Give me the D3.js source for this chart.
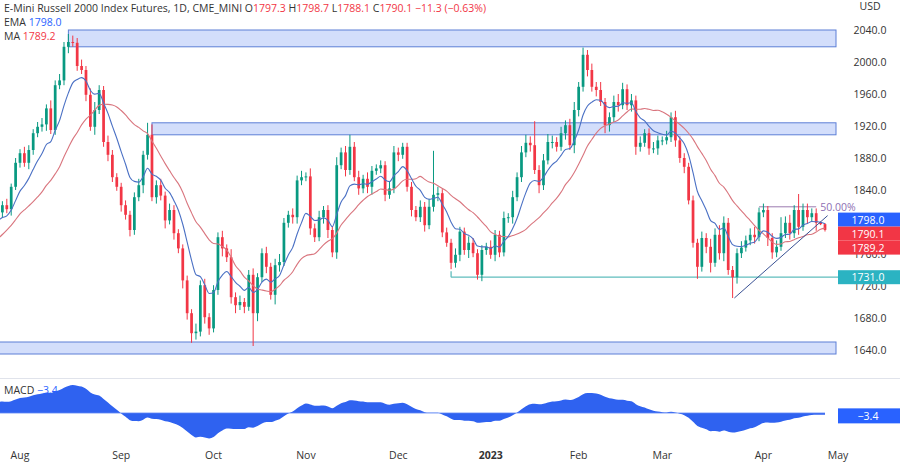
<!DOCTYPE html>
<html><head><meta charset="utf-8">
<script src="https://cdn.jsdelivr.net/npm/d3@7/dist/d3.min.js"></script>
<style>body{margin:0;background:#fff;font-family:"Open Sans",Roboto,sans-serif}</style>
</head><body><svg id="c" width="900" height="463"></svg>
<script>
// ---- data ----
const startDate = "2022-07-25";
const holidays = ["2022-09-05","2022-11-24","2022-12-26","2023-01-02","2023-01-16","2023-02-20","2023-04-07"];
const warmupCloses = [1690,1700,1735,1745,1760,1745,1720,1705,1725,1735,1740,1775,1790,1805,1800,1795,1780,1790,1810,1795,1770,1800,1810,1830,1800];
const closes = [1812,1821,1816,1844,1874,1886,1874,1890,1911,1919,
1922,1942,1915,1971,1977,2019,2025,2024,1995,1990,
1959,1919,1940,1965,1900,1884,1856,1844,1821,1809,
1790,1831,1846,1884,1909,1831,1846,1833,1802,1815,
1786,1767,1727,1686,1661,1663,1721,1681,1667,1715,
1781,1767,1756,1706,1696,1700,1694,1734,1686,1731,
1761,1744,1709,1746,1750,1799,1809,1806,1852,1856,
1857,1792,1781,1806,1815,1790,1762,1871,1887,1865,
1894,1856,1842,1854,1844,1864,1867,1871,1834,1842,
1887,1884,1894,1844,1815,1806,1819,1796,1819,1834,
1836,1787,1774,1749,1759,1788,1765,1774,1761,1734,
1765,1769,1759,1784,1762,1805,1806,1831,1856,1887,
1899,1896,1865,1846,1877,1900,1900,1894,1911,1921,
1896,1940,1969,2009,1990,1969,1965,1950,1921,1931,
1950,1946,1966,1946,1952,1894,1899,1911,1892,1892,
1902,1902,1906,1931,1902,1880,1869,1827,1774,1744,
1780,1769,1749,1784,1761,1799,1740,1731,1761,1768,
1777,1784,1781,1812,1815,1780,1762,1769,1786,1799,
1786,1815,1794,1815,1806,1811,1799,1797.3,1790.1];
const wickUp = [6,5,8,4,6,5,8,6,5,6, 8,5,10,6,8,6,10,8,6,8, 5,8,10,6,5,8,6,5,5,6, 5,6,8,5,15,13,6,8,5,8,
6,5,5,6,5,10,6,8,5,6, 6,8,5,10,6,8,5,6,8,5, 6,8,5,8,10,6,5,8,6,8, 5,10,6,8,5,6,5,10,6,8,
15,6,8,5,8,6,5,6,5,8, 8,6,5,5,6,5,8,6,10,55, 8,5,6,5,8,6,5,8,6,5, 6,5,8,6,5,8,5,8,6,8,
10,8,30,6,8,10,8,6,8,6, 8,10,6,9,6,8,6,10,5,6, 8,10,8,6,8,6,8,5,6,8, 6,5,8,6,8,5,6,5,6,5,
8,6,10,8,12,8,6,5,6,8, 6,8,10,6,8,5,6,8,20,8, 10,6,20,8,8,6,6,1.4,1.4];
const wickDown = [5,6,5,8,4,6,5,8,6,5, 6,8,5,6,5,6,8,5,6,5, 8,5,10,5,6,8,6,5,8,6, 8,6,5,10,6,5,8,6,10,5,
8,6,10,8,12,8,6,8,8,5, 6,10,6,8,10,6,8,5,41,10, 6,8,6,12,8,5,6,8,8,6, 5,8,6,5,8,10,6,8,5,8,
6,5,8,6,8,10,5,6,8,5, 6,8,5,6,8,5,6,8,5,6, 8,6,5,8,6,8,6,10,5,6, 8,6,5,8,6,5,6,8,5,6,
6,8,5,10,6,5,8,6,5,8, 6,10,8,6,8,6,8,5,10,8, 6,8,5,6,8,10,6,5,8,6, 8,6,5,6,8,6,8,5,6,15,
6,8,12,5,8,10,6,26,8,6, 5,6,8,5,6,10,8,6,5,6, 8,6,10,5,8,6,10,1.2,2];
const lastOpen = 1797.3;
const priceTicks = [1640,1680,1720,1760,1800,1840,1880,1920,1960,2000,2040];
const zones = [[2019,2040,16],[1909,1924,35],[1635,1650,-5]]; // [low, high, start index]
const supportLevel = 1731.0, supportStart = 103;
const rangeTop = 1819, rangeStart = 173, rangeEnd = 186;
const trendLine = [[167.4,1705],[188.6,1808]];
const lastTags = [["1798.0","#2962ff"],["1790.1","#f23645"],["1789.2","#f23645"]];
const monthNames = ["Jan","Feb","Mar","Apr","May","Jun","Jul","Aug","Sep","Oct","Nov","Dec"];

// ---- dates ----
const fmt = d3.timeFormat("%Y-%m-%d");
const dates = [];
for (let d = new Date(startDate+"T12:00:00"); dates.length < 200; d = d3.timeDay.offset(d,1)) {
  const wd = d.getDay(); if (wd===0||wd===6||holidays.includes(fmt(d))) continue; dates.push(new Date(d));
}
// ---- indicators ----
const all = warmupCloses.concat(closes), W = warmupCloses.length;
function ema(arr,n){const k=2/(n+1);let e=arr[0];return arr.map(v=>e=v*k+e*(1-k));}
const ema9 = ema(all,9).slice(W);
const ma20 = all.map((v,i)=>d3.mean(all.slice(Math.max(0,i-19),i+1))).slice(W);
const e12=ema(all,12), e26=ema(all,26);
const macd = all.map((v,i)=>e12[i]-e26[i]).slice(W);

// ---- scales ----
const svg = d3.select("#c");
const x = d3.scaleLinear().domain([5,188]).range([20,825]);
const y = d3.scaleLinear().domain([1640,2040]).range([350,30]);
const plotR = 838;
const mMax = d3.max(macd,Math.abs);
const ym = d3.scaleLinear().domain([-mMax,mMax]).range([441,385]);

const defs = svg.append("defs");
defs.append("clipPath").attr("id","cp").append("rect").attr("x",0).attr("y",0).attr("width",plotR).attr("height",378);
defs.append("clipPath").attr("id","cm").append("rect").attr("x",0).attr("y",379).attr("width",plotR).attr("height",70);
const g = svg.append("g").attr("clip-path","url(#cp)");

zones.forEach(([lo,hi,s])=>{
  g.append("rect").attr("x",x(s)).attr("y",y(hi)).attr("width",836-x(s)).attr("height",y(lo)-y(hi))
   .attr("fill","#d3defb").attr("stroke","#5d7fd6").attr("stroke-width",1);
});
g.append("line").attr("x1",x(supportStart)).attr("x2",plotR).attr("y1",y(supportLevel)).attr("y2",y(supportLevel))
 .attr("stroke","#5fbdbd").attr("stroke-width",1.3);
g.append("line").attr("x1",x(supportStart)).attr("x2",x(supportStart)).attr("y1",y(supportLevel)).attr("y2",y(supportLevel)-6)
 .attr("stroke","#5fbdbd").attr("stroke-width",1.3);
g.append("line").attr("x1",x(rangeStart)).attr("x2",x(rangeEnd)).attr("y1",y(rangeTop)).attr("y2",y(rangeTop))
 .attr("stroke","#9c7bb0").attr("stroke-width",1);
svg.append("text").attr("x",x(rangeEnd)+4).attr("y",y(rangeTop)+4).text("50.00%").attr("font-size",10.5).attr("fill","#8e6fb3");

const step = x(1)-x(0), bw = step*0.62;
closes.forEach((c,i)=>{
  const o = i===closes.length-1 ? lastOpen : (i===0 ? closes[0]-8 : closes[i-1]);
  const hi = Math.max(o,c)+wickUp[i], lo = Math.min(o,c)-wickDown[i];
  const col = c>=o ? "#089981" : "#f23645";
  g.append("line").attr("x1",x(i)).attr("x2",x(i)).attr("y1",y(hi)).attr("y2",y(lo)).attr("stroke",col).attr("stroke-width",1);
  g.append("rect").attr("x",x(i)-bw/2).attr("y",y(Math.max(o,c))).attr("width",bw).attr("height",Math.max(1,Math.abs(y(o)-y(c)))).attr("fill",col);
});
const ln = d3.line().x((d,i)=>x(i)).y(d=>y(d)).curve(d3.curveMonotoneX);
g.append("path").attr("d",ln(ma20)).attr("fill","none").attr("stroke","#d9757e").attr("stroke-width",1.1);
g.append("path").attr("d",ln(ema9)).attr("fill","none").attr("stroke","#4a70c4").attr("stroke-width",1.1);
g.append("line").attr("x1",x(trendLine[0][0])).attr("y1",y(trendLine[0][1])).attr("x2",x(trendLine[1][0])).attr("y2",y(trendLine[1][1]))
 .attr("stroke","#3a5294").attr("stroke-width",1);

svg.append("g").selectAll("text").data(priceTicks).join("text").attr("x",870).attr("y",d=>y(d)+4)
  .attr("text-anchor","middle").attr("font-size",10.5).attr("fill","#333").text(d=>d.toFixed(1));
svg.append("text").attr("x",870).attr("y",10).attr("text-anchor","middle").attr("font-size",10.5).attr("fill","#333").text("USD");
function tag(yy,txt,bg,h=14){svg.append("rect").attr("x",838).attr("y",yy-h/2).attr("width",62).attr("height",h).attr("fill",bg);
 svg.append("text").attr("x",868).attr("y",yy+4).attr("text-anchor","middle").attr("font-size",10.5).attr("fill","#fff").text(txt);}
tag(y(supportLevel),supportLevel.toFixed(1),"#2bb3c2");
const y0tag = y(1803);
lastTags.forEach(([t,c],k)=>tag(y0tag+k*14,t,c));

svg.append("line").attr("x1",0).attr("x2",900).attr("y1",378.5).attr("y2",378.5).attr("stroke","#e0e3eb");
const area = d3.area().x((d,i)=>x(i)).y0(ym(0)).y1(d=>ym(d)).curve(d3.curveMonotoneX);
svg.append("path").attr("clip-path","url(#cm)").attr("d",area(macd)).attr("fill","#2f62f0");
svg.append("line").attr("x1",0).attr("x2",x(188)).attr("y1",ym(0)).attr("y2",ym(0)).attr("stroke","#5d86f5").attr("stroke-width",0.8);
const mLast = macd[macd.length-1];
tag(ym(mLast)+1,"−3.4","#2962ff",15);
const mt = svg.append("text").attr("x",4).attr("y",394).attr("font-size",10.5).attr("fill","#333");
mt.append("tspan").text("MACD  "); mt.append("tspan").attr("fill","#2962ff").text("−3.4");

const ticks = [];
dates.forEach((d,i)=>{ if(i>0 && d.getMonth()!==dates[i-1].getMonth() && i>=5) ticks.push([i,d]); });
svg.append("g").selectAll("text").data(ticks).join("text").attr("x",d=>Math.min(x(d[0]),838)).attr("y",459).attr("text-anchor","middle")
  .attr("font-size",10.5).attr("fill","#333").attr("font-weight",d=>d[1].getMonth()===0?"bold":"normal")
  .text(d=>d[1].getMonth()===0?d[1].getFullYear():monthNames[d[1].getMonth()]);

const h1 = svg.append("text").attr("x",4).attr("y",12).attr("font-size",10.5).attr("fill","#333");
h1.append("tspan").text("E-Mini Russell 2000 Index Futures, 1D, CME_MINI  ");
[["O","1797.3"],["H","1798.7"],["L","1788.1"],["C","1790.1"]].forEach(([k,v])=>{h1.append("tspan").text(k);h1.append("tspan").attr("fill","#f23645").text(v+"  ");});
h1.append("tspan").attr("fill","#f23645").text("−11.3 (−0.63%)");
const h2 = svg.append("text").attr("x",4).attr("y",26).attr("font-size",10.5).attr("fill","#333");
h2.append("tspan").text("EMA  "); h2.append("tspan").attr("fill","#2962ff").text("1798.0");
const h3 = svg.append("text").attr("x",4).attr("y",40).attr("font-size",10.5).attr("fill","#333");
h3.append("tspan").text("MA  "); h3.append("tspan").attr("fill","#f23645").text("1789.2");
</script></body></html>
